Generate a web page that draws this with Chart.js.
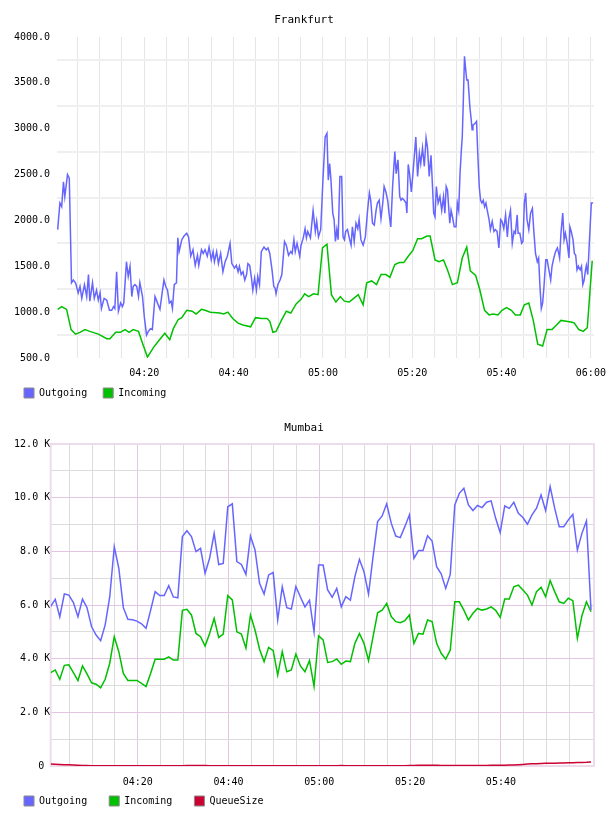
<!DOCTYPE html>
<html>
<head>
<meta charset="utf-8">
<script src="https://cdn.jsdelivr.net/npm/chart.js@4.4.1/dist/chart.umd.min.js"></script>
<style>
  html, body { margin: 0; padding: 0; background: #fff; overflow: hidden; }
  #wrap { position: relative; width: 608px; height: 816px; overflow: hidden; }
  canvas { position: absolute; left: 0; }
  #fra { top: 0; }
  #mum { top: 405px; }
</style>
</head>
<body>
<div id="wrap">
  <canvas id="fra" width="608" height="408"></canvas>
  <canvas id="mum" width="608" height="411"></canvas>
</div>
<script>
// times are minutes after 04:00
const fraOutTime = [
  0.6,1.1,1.5,1.9,2.2,2.8,3.2,3.7,4.1,4.6,5.2,5.6,6.0,6.6,7.1,7.5,7.8,8.4,8.8,9.3,
  9.7,10.1,10.4,11.0,11.6,12.2,12.7,13.1,13.4,13.8,14.2,14.7,15.1,15.4,16.0,16.4,16.8,17.2,17.5,17.9,
  18.3,18.7,19.0,19.6,20.0,20.5,20.9,21.4,21.8,22.4,22.8,23.1,23.5,24.0,24.4,24.8,25.2,25.6,26.0,26.3,
  26.7,27.2,27.5,27.8,28.4,28.9,29.5,29.9,30.2,
  30.4,30.9,31.4,31.9,32.2,32.8,33.2,33.6,34.1,34.5,35.0,35.4,35.7,36.2,36.6,37.1,37.6,38.1,38.6,39.2,
  39.6,40.2,40.6,41.0,41.3,41.7,42.1,42.5,42.9,43.2,43.6,44.0,44.3,44.7,45.1,45.4,45.8,46.2,46.8,47.3,
  47.7,48.1,48.6,49.0,49.3,49.5,49.9,50.4,50.8,51.4,51.8,52.3,52.8,53.1,53.5,53.8,54.2,54.8,55.1,55.6,
  56.0,56.3,56.6,57.2,57.8,58.3,58.6,59.0,59.5,60.0,
  60.5,60.9,61.2,61.5,61.8,62.2,62.5,62.8,63.1,63.4,63.8,64.2,64.5,64.8,65.1,65.5,65.9,66.3,66.6,67.0,
  67.4,67.8,68.1,68.5,69.0,69.5,70.0,70.4,70.7,71.1,71.5,71.9,72.2,72.6,73.0,73.4,73.7,74.1,74.5,74.8,
  75.2,75.6,76.1,76.4,76.8,77.2,77.5,77.8,78.2,78.6,78.8,79.1,79.4,79.8,80.1,80.4,80.8,81.2,81.6,81.9,
  82.3,82.7,83.1,83.4,83.8,84.2,84.5,84.8,85.1,85.4,85.8,86.2,86.6,87.0,87.3,87.6,87.9,88.4,88.7,89.0,
  89.4,89.8,
  90.1,90.4,90.7,91.0,91.2,91.4,91.7,91.9,92.2,92.5,92.9,93.2,93.4,93.6,94.1,94.4,94.7,95.0,95.3,95.6,
  95.9,96.2,96.5,96.8,97.2,97.5,97.9,98.3,98.6,99.0,99.4,99.8,100.1,100.5,100.9,101.3,101.6,102.0,102.4,102.8,
  103.1,103.5,103.7,104.1,104.5,104.8,105.1,105.4,105.7,106.1,106.5,106.9,107.2,107.6,108.0,108.3,108.6,108.9,109.2,109.5,
  109.9,110.2,110.6,111.0,111.3,111.7,112.1,112.5,112.8,113.0,113.3,113.7,114.0,114.3,114.7,115.1,115.3,115.6,116.0,116.3,
  116.6,116.9,117.2,117.6,117.9,118.2,118.5,118.8,119.0,119.3,120.1,120.5
];
const fraOutVal = [
  1900,2190,2150,2420,2260,2500,2460,1320,1350,1320,1210,1280,1150,1300,1170,1410,1120,1320,1150,1240,
  1130,1210,1040,1150,1130,1020,1020,1060,1040,1440,1010,1100,1060,1100,1550,1390,1500,1170,1280,1300,
  1280,1170,1320,1170,950,750,790,820,810,1170,1120,1080,1030,1210,1350,1280,1240,1100,1120,1040,
  1300,1320,1810,1660,1790,1830,1860,1820,1700,
  1610,1680,1510,1620,1510,1680,1640,1680,1610,1710,1570,1660,1550,1660,1530,1640,1440,1550,1610,1750,
  1530,1480,1510,1440,1500,1410,1440,1350,1410,1530,1510,1370,1240,1370,1240,1390,1300,1660,1710,1680,
  1700,1640,1460,1280,1260,1200,1300,1350,1410,1770,1730,1620,1660,1640,1790,1660,1750,1610,1730,1810,
  1910,1810,1880,1810,2110,1880,1990,1820,1900,2440,
  2910,2950,2440,2620,2440,2080,2010,1770,1900,1790,2480,2480,1820,1790,1880,1900,1810,1730,1930,1770,
  1970,1910,2010,1790,1730,1820,2110,2300,2220,1970,1950,2110,2190,2220,2020,2190,2370,2310,2220,2080,
  1930,2370,2750,2510,2660,2260,2220,2240,2220,2190,2080,2610,2510,2310,2480,2660,2910,2480,2730,2620,
  2790,2590,2900,2800,2480,2710,2410,2080,2040,2370,2190,2260,2110,2260,2080,2370,2330,1970,2110,2040,
  1930,1930,
  2190,2110,2510,2770,2910,3240,3790,3680,3530,3530,3240,3100,2990,3040,3060,3080,2700,2370,2220,2190,
  2220,2150,2190,2110,2010,1900,1990,1880,1900,1880,1700,2010,1990,1910,2060,1820,2010,2110,1750,1880,
  1860,2060,1860,1860,1750,1770,2190,2300,2010,1900,2080,2130,1900,1640,1550,1590,1280,1040,1100,1280,
  1570,1570,1460,1350,1500,1590,1660,1700,1640,1590,1860,2080,1790,1860,1750,1590,1930,1880,1790,1640,
  1620,1460,1500,1460,1500,1300,1350,1460,1510,1410,2190,2190
];
const fraInTime = [
  0.6,1.5,2.6,3.6,4.6,5.6,6.7,7.8,9.7,11.6,12.3,13.6,14.6,15.7,16.6,17.5,18.7,19.6,20.7,22.0,
  23.1,24.6,25.7,26.5,27.6,28.4,29.5,
  30.7,31.6,32.8,33.6,34.8,36.9,37.8,38.7,39.8,41.0,42.1,43.8,44.9,46.2,47.5,48.1,48.8,49.5,50.7,51.8,
  52.8,54.0,55.1,55.9,56.8,57.9,58.9,
  59.9,60.9,61.9,62.9,63.9,64.8,65.9,66.9,67.9,69.0,69.8,70.9,72.0,73.0,74.1,75.0,76.1,77.1,78.1,79.1,
  80.1,81.2,82.1,83.3,84.0,85.1,86.0,87.0,87.9,89.0,
  90.1,91.2,92.2,93.0,94.2,95.1,96.2,97.2,98.1,99.2,100.1,101.1,102.2,103.1,104.2,105.1,106.1,107.1,108.1,109.2,
  110.2,111.3,112.3,113.3,114.5,115.8,116.3,117.3,118.3,119.2,120.3
];
const fraInVal = [
  1030,1060,1030,810,760,780,810,790,760,710,710,780,780,810,780,810,790,660,510,610,
  680,770,700,820,920,940,1020,
  1010,980,1030,1020,1000,990,980,1000,930,880,860,840,940,930,930,900,780,790,910,1010,
  990,1090,1140,1200,1170,1200,1190,
  1700,1740,1190,1110,1170,1120,1110,1150,1190,1080,1320,1340,1300,1410,1410,1380,1520,1540,1540,1610,
  1670,1800,1800,1830,1830,1570,1550,1570,1460,1300,
  1320,1590,1710,1450,1400,1250,1020,970,980,970,1020,1050,1020,970,970,1080,1100,910,650,630,
  810,810,860,910,900,890,880,810,790,830,1560
];

// Mumbai: one sample per minute, first at 04:00:50
const mumStart = 0.84;
const mumOut = [
  5950,6210,5560,6410,6370,6090,5560,6220,5900,5190,
  4880,4670,5260,6300,8170,7370,5900,5470,5450,5400,
  5300,5130,5800,6500,6350,6350,6720,6300,6270,8550,
  8770,8550,7990,8110,7180,7740,8670,7510,7550,9660,
  9770,7620,7510,7140,8570,8050,6810,6410,7120,7210,
  5440,6680,5900,5850,6690,6300,5930,6180,5000,7490,
  7490,6560,6290,6620,5930,6310,6180,7060,7700,7240,
  6410,7800,9110,9320,9770,9050,8570,8510,8920,9360,
  7740,8030,8030,8580,8380,7430,7160,6620,7140,9730,
  10160,10350,9730,9520,9710,9630,9830,9880,9230,8700,
  9690,9600,9830,9420,9260,9010,9360,9610,10100,9520,
  10410,9610,8920,8920,9170,9380,8050,8670,9130,5810
];
const mumIn = [
  3480,3580,3230,3750,3770,3480,3180,3730,3430,3100,
  3050,2910,3230,3830,4820,4260,3450,3190,3190,3190,
  3080,2960,3450,3980,3980,3980,4070,3950,3950,5800,
  5840,5630,4940,4820,4470,4940,5500,4790,4920,6350,
  6190,5000,4920,4390,5630,5070,4350,3890,4420,4300,
  3390,4260,3510,3580,4170,3730,3510,3930,2970,4850,
  4700,3860,3890,3990,3790,3910,3890,4570,4940,4570,
  3930,4820,5710,5810,6060,5570,5380,5340,5420,5630,
  4570,4940,4910,5440,5380,4570,4200,3980,4320,6120,
  6120,5810,5440,5690,5870,5810,5850,5930,5800,5540,
  6220,6220,6680,6740,6560,6370,6000,6500,6660,6310,
  6910,6500,6120,6060,6250,6160,4760,5600,6120,5750
];
const mumQueue = [
  70,65,58,50,42,35,28,20,14,10,
  8,6,5,5,5,5,5,5,5,5,
  5,5,5,5,5,5,5,5,5,8,
  15,20,22,20,15,10,8,5,5,5,
  5,5,5,5,5,5,5,5,5,5,
  5,5,5,5,5,5,5,5,5,5,
  5,5,8,12,15,12,8,5,5,5,
  5,5,5,5,5,5,5,8,12,15,
  20,25,28,30,30,25,22,20,20,20,
  20,20,20,20,20,20,22,25,28,30,
  30,35,40,50,60,70,80,85,95,100,
  100,105,110,115,120,125,130,135,140,150
];

const BLUE = '#6666ff';
const GREEN = '#00c000';
const RED = '#cc0033';
const MONO = "'DejaVu Sans Mono', monospace";

const hhmm = v => {
  const h = 4 + Math.floor(v / 60), m = v % 60;
  return String(h).padStart(2, '0') + ':' + String(m).padStart(2, '0');
};
const tickList = (from, to, step) => {
  const out = [];
  for (let v = from; v <= to; v += step) out.push({ value: v });
  return out;
};
const pairs = (times, vals) => times.map((x, i) => ({ x, y: vals[i] }));
const perMinute = vals => vals.map((y, i) => ({ x: mumStart + i, y }));

const line = (label, color, data) => ({
  label, data,
  borderColor: color, backgroundColor: color,
  borderWidth: 1.5, pointRadius: 0, tension: 0, fill: false
});

// grey border on the legend boxes, trailing blanks widen the gaps
const legendLabels = gap => chart =>
  Chart.defaults.plugins.legend.labels.generateLabels(chart)
    .map(l => Object.assign(l, { text: l.text + gap, strokeStyle: '#8a8a8a', lineWidth: 1 }));

const tickFont = { family: MONO, size: 10, lineHeight: 1 };

// Frankfurt
new Chart(document.getElementById('fra'), {
  type: 'line',
  data: {
    datasets: [
      line('Outgoing', BLUE, pairs(fraOutTime, fraOutVal)),
      line('Incoming', GREEN, pairs(fraInTime, fraInVal))
    ]
  },
  options: {
    responsive: false, animation: false, devicePixelRatio: 1,
    layout: { padding: { left: 14, right: 14, top: 0, bottom: 0 } },
    plugins: {
      title: {
        display: true, text: 'Frankfurt', color: '#000',
        font: { family: MONO, size: 11, weight: 'normal' },
        padding: { top: 13.9, bottom: 9.9 }
      },
      legend: {
        position: 'bottom', align: 'start',
        labels: { boxWidth: 10, boxHeight: 10, padding: 10, color: '#000', font: tickFont, generateLabels: legendLabels(' ') }
      },
      tooltip: { enabled: false }
    },
    scales: {
      x: {
        type: 'linear', min: 0.45, max: 120.7,
        afterBuildTicks: s => { s.ticks = tickList(5, 120, 5); },
        afterFit: s => { s.height = 20; s.paddingLeft = 0; s.paddingRight = 0; },
        grid: { color: '#e6e6e6', lineWidth: 1, drawTicks: false },
        border: { display: false },
        ticks: {
          autoSkip: false, maxRotation: 0, padding: 10, color: '#000', font: tickFont,
          callback: v => (v % 20 === 0 ? hhmm(v) : '')
        }
      },
      y: {
        type: 'linear', min: 500, max: 4000,
        afterBuildTicks: s => { s.ticks = tickList(500, 4000, 250); },
        afterFit: s => { s.width = 43; s.paddingTop = 0; s.paddingBottom = 0; },
        grid: {
          color: c => (c.tick.value % 500 === 0 ? 'rgba(0,0,0,0)' : '#efefef'),
          lineWidth: 2, drawTicks: false
        },
        border: { display: false },
        ticks: {
          padding: 7, color: '#000', font: tickFont,
          callback: v => (v % 500 === 0 ? v.toFixed(1) : '')
        }
      }
    }
  }
});

// pink frame round the Mumbai plot
const frame = {
  id: 'frame',
  beforeDatasetsDraw(chart) {
    const { ctx, chartArea: a } = chart;
    ctx.save();
    ctx.strokeStyle = '#ecdcec';
    ctx.lineWidth = 2;
    ctx.strokeRect(a.left, a.top, a.right - a.left, a.bottom - a.top);
    ctx.restore();
  }
};

// Mumbai
new Chart(document.getElementById('mum'), {
  type: 'line',
  data: {
    datasets: [
      line('Outgoing', BLUE, perMinute(mumOut)),
      line('Incoming', GREEN, perMinute(mumIn)),
      line('QueueSize', RED, perMinute(mumQueue))
    ]
  },
  plugins: [frame],
  options: {
    responsive: false, animation: false, devicePixelRatio: 1,
    layout: { padding: { left: 14, right: 14, top: 0, bottom: 0 } },
    plugins: {
      title: {
        display: true, text: 'Mumbai', color: '#000',
        font: { family: MONO, size: 11, weight: 'normal' },
        padding: { top: 16.9, bottom: 8.9 }
      },
      legend: {
        position: 'bottom', align: 'start',
        labels: { boxWidth: 10, boxHeight: 10, padding: 10, color: '#000', font: tickFont, generateLabels: legendLabels('  ') }
      },
      tooltip: { enabled: false }
    },
    scales: {
      x: {
        type: 'linear', min: 0.84, max: 120.5,
        afterBuildTicks: s => { s.ticks = tickList(5, 115, 5); },
        afterFit: s => { s.height = 20; s.paddingLeft = 0; s.paddingRight = 0; },
        grid: { color: c => (c.tick.value % 20 === 0 ? '#e2c6e2' : '#dcdcdc'), lineWidth: 1, drawTicks: false },
        border: { display: false },
        ticks: {
          autoSkip: false, maxRotation: 0, padding: 11, color: '#000', font: tickFont,
          callback: v => (v % 20 === 0 ? hhmm(v) : '')
        }
      },
      y: {
        type: 'linear', min: 0, max: 12000,
        afterBuildTicks: s => { s.ticks = tickList(0, 12000, 1000); },
        afterFit: s => { s.width = 36.7; s.paddingTop = 0; s.paddingBottom = 0; },
        grid: { color: c => (c.tick.value % 2000 === 0 ? '#e2c6e2' : '#dcdcdc'), lineWidth: 1, drawTicks: false },
        border: { display: false },
        ticks: {
          padding: 0.5, color: '#000', font: tickFont,
          callback: v => (v % 2000 !== 0 ? '' : v === 0 ? '0 ' : (v / 1000).toFixed(1) + ' K')
        }
      }
    }
  }
});
</script>
</body>
</html>
